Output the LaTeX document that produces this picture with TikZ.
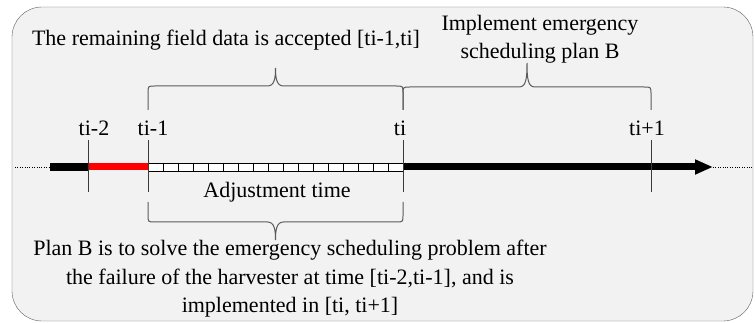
\documentclass[tikz,border=0pt]{standalone}
\usepackage{fontspec}
\setmainfont{Liberation Serif}
\usetikzlibrary{arrows.meta,positioning}
\definecolor{panelgray}{HTML}{F2F2F2}
\definecolor{framegray}{HTML}{606060}
\definecolor{tickgray}{HTML}{3A3A3A}
\definecolor{bracegray}{HTML}{5A5A5A}
\definecolor{faultred}{HTML}{FF0000}
% curly brace: left x, right x, arm end y, bar y, tip y
\newcommand{\curlybrace}[5]{%
  \draw[bracestroke] (#1,#3) -- (#1,{#4+7*sign(#3-#4)})
    .. controls (#1,#4) .. ({#1+7},#4) -- ({(#1+#2)/2-8},#4)
    .. controls ({(#1+#2)/2-1},#4) and ({(#1+#2)/2},{#4+8*sign(#5-#4)}) .. ({(#1+#2)/2},#5)
    .. controls ({(#1+#2)/2},{#4+8*sign(#5-#4)}) and ({(#1+#2)/2+1},#4) .. ({(#1+#2)/2+8},#4)
    -- ({#2-7},#4) .. controls (#2,#4) .. (#2,{#4+7*sign(#3-#4)}) -- (#2,#3);}

\begin{document}
\begin{tikzpicture}[
  x=1pt,y=-1pt,
  caption/.style={font=\fontsize{22}{28.5}\selectfont,inner sep=0pt,align=center},
  ticklabel/.style={caption},
  tickline/.style={draw=tickgray,line width=1pt},
  bracestroke/.style={line width=1pt,draw=bracegray},
  timebar/.style={line width=8pt},
  future/.style={line width=7pt,-{Triangle[length=18pt,width=14pt]}}
]
\useasboundingbox (0,0) rectangle (755,323);
\draw[framegray,fill=panelgray,rounded corners=30pt] (12,7) rectangle (753,321);

% time axis
\coordinate (leftend) at (15,167);
\coordinate (barstart) at (50,167);
\coordinate (tm2) at (88,167);
\coordinate (tm1) at (148,167);
\coordinate (t0) at (403,167);
\coordinate (tp1) at (651,167);
\coordinate (tipend) at (713,167);
\coordinate (rightend) at (752,167);

\draw[dotted,thin] (leftend) -- (barstart);
\draw[dotted,thin] (tipend) -- (rightend);
\draw[timebar] (barstart) -- (tm2);
\draw[timebar,faultred,line width=7pt] (tm2) -- (tm1);
\draw[fill=white,line width=0.8pt] ([yshift=4pt]tm1) rectangle ([yshift=-4pt]t0);
\foreach \k in {1,...,16}
  \draw[line width=0.8pt] ({148+15*\k},163) -- ({148+15*\k},171);
\draw[future] (t0) -- (tipend);

\foreach \t in {tm2,tm1,t0,tp1}
  \draw[tickline] ([yshift=27pt]\t) -- ([yshift=-25pt]\t);

\node[ticklabel,above=31pt of tm2,xshift=6pt] (lbtm2) {ti-2};
\node[ticklabel,above=31pt of tm1,xshift=5pt] (lbtm1) {ti-1};
\node[ticklabel,above=31pt of t0,xshift=-3pt] (lbt0) {ti};
\node[ticklabel,above=31pt of tp1,xshift=-4pt] (lbtp1) {ti+1};

% braces
\curlybrace{148}{403}{110}{86}{68}
\curlybrace{403}{651}{110}{87}{63}
\curlybrace{148}{403}{202}{222}{240}

\node[caption] (accepted) at (226,40) {The remaining field data is accepted [ti-1,ti]};
\node[caption] (planB) at (540,39) {Implement emergency\\scheduling plan B};
\node[caption] (adjust) at (277,192) {Adjustment time};
\node[caption] (solve) at (290,279) {Plan B is to solve the emergency scheduling problem after\\the failure of the harvester at time [ti-2,ti-1], and is\\implemented in [ti, ti+1]};
\end{tikzpicture}
\end{document}
